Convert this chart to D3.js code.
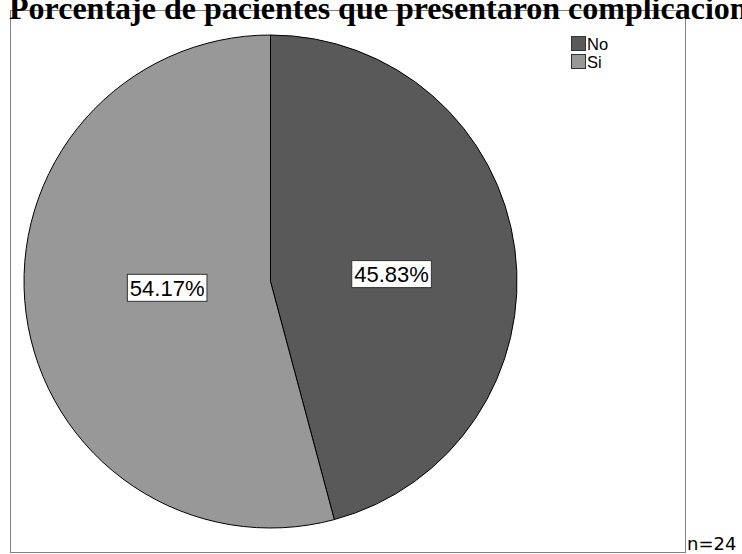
<!DOCTYPE html>
<html>
<head>
<meta charset="utf-8">
<script src="https://cdn.jsdelivr.net/npm/d3@7"></script>
<style>
  html, body { margin: 0; padding: 0; background: #fff; overflow: hidden; }
  svg { display: block; }
</style>
</head>
<body>
<svg id="chart" width="742" height="554"></svg>
<script>
// Patients with complications (n = 24)
const categories = ["No", "Si"];
const counts = [11, 13];
const percentLabels = ["45.83%", "54.17%"];
const sliceColors = ["#595959", "#989898"];
const titleText = "Porcentaje de pacientes que presentaron complicaciones";
const footnote = "n=24";

const svg = d3.select("#chart");

// Plot frame
const frame = { x: 10.5, y: 10.5, w: 675, h: 542 };
svg.append("rect")
  .attr("x", frame.x).attr("y", frame.y)
  .attr("width", frame.w).attr("height", frame.h)
  .attr("fill", "#fff").attr("stroke", "#808080").attr("stroke-width", 1);

// Title (runs past the right edge of the page)
svg.append("text")
  .attr("x", 9).attr("y", 19)
  .attr("font-family", "'Liberation Serif', 'Times New Roman', serif")
  .attr("font-weight", "bold")
  .attr("font-size", 32)
  .attr("fill", "#000")
  .text(titleText);

// Pie
const cx = 270.5, cy = 281.5, r = 246.5;
const pie = d3.pie().sort(null).value(d => d)
  .startAngle(0).endAngle(2 * Math.PI);
const arcs = pie(counts);
const arc = d3.arc().innerRadius(0).outerRadius(r);

const g = svg.append("g").attr("transform", `translate(${cx},${cy})`);
g.selectAll("path.slice")
  .data(arcs)
  .join("path")
  .attr("class", "slice")
  .attr("d", arc)
  .attr("fill", (d, i) => sliceColors[i])
  .attr("stroke", "#000")
  .attr("stroke-width", 1);

// Percentage labels in white boxes
const labelRadius = [0.492 * r, 0.42 * r];
const labelTurn = 4 * Math.PI / 180;
const labelFont = 22;
arcs.forEach((d, i) => {
  const mid = (d.startAngle + d.endAngle) / 2 + labelTurn;
  const lx = Math.sin(mid) * labelRadius[i];
  const ly = -Math.cos(mid) * labelRadius[i];
  const lg = g.append("g").attr("transform", `translate(${lx},${ly})`);
  const t = lg.append("text")
    .attr("text-anchor", "middle")
    .attr("dy", "0.36em")
    .attr("font-family", "'Liberation Sans', Arial, sans-serif")
    .attr("font-size", labelFont)
    .attr("fill", "#000")
    .text(percentLabels[i]);
  const bb = t.node().getBBox();
  lg.insert("rect", "text")
    .attr("x", -bb.width / 2 - 2.5)
    .attr("y", -13.5)
    .attr("width", bb.width + 5)
    .attr("height", 27)
    .attr("fill", "#fff")
    .attr("stroke", "#333")
    .attr("stroke-width", 1);
});

// Legend
const legend = svg.append("g").attr("transform", "translate(571,35)");
const lgItem = legend.selectAll("g.item")
  .data(categories)
  .join("g")
  .attr("class", "item")
  .attr("transform", (d, i) => `translate(0,${i * 18})`);
lgItem.append("rect")
  .attr("x", 0.5).attr("y", 1.5)
  .attr("width", 14).attr("height", 14)
  .attr("fill", (d, i) => sliceColors[i])
  .attr("stroke", "#333").attr("stroke-width", 1);
lgItem.append("text")
  .attr("x", 16).attr("y", 14.5)
  .attr("font-family", "'Liberation Sans', Arial, sans-serif")
  .attr("font-size", 16.5)
  .attr("fill", "#000")
  .text(d => d);

// Sample size note
svg.append("text")
  .attr("x", 687).attr("y", 550)
  .attr("font-family", "'DejaVu Sans', sans-serif")
  .attr("font-size", 18)
  .attr("fill", "#000")
  .text(footnote);
</script>
</body>
</html>
